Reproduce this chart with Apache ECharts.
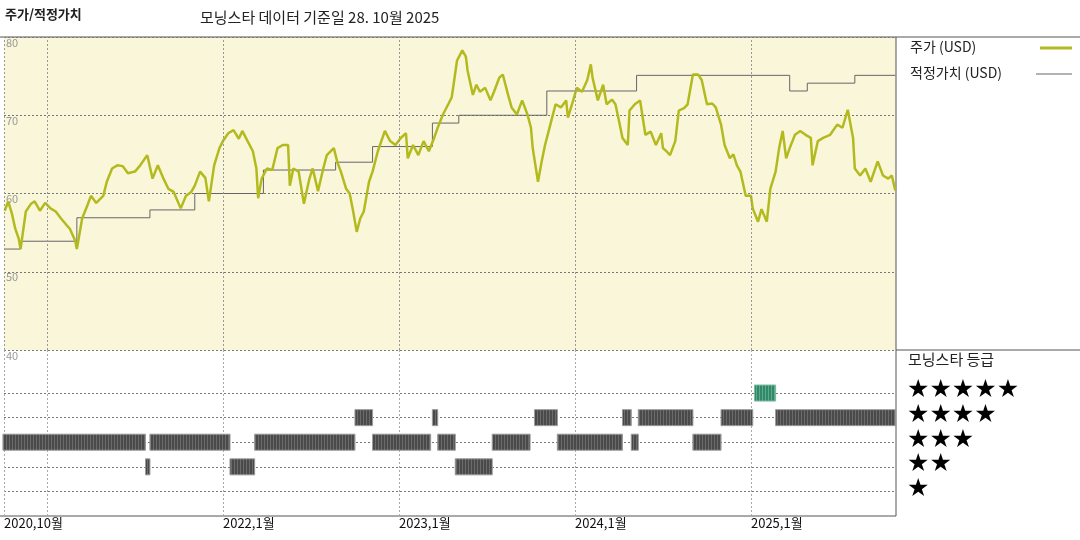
<!DOCTYPE html>
<html>
<head>
<meta charset="utf-8">
<script src="https://cdn.jsdelivr.net/npm/echarts@6/dist/echarts.min.js"></script>
<style>html,body{margin:0;padding:0;background:#fff}#c{width:1080px;height:540px}</style>
</head>
<body>
<div id="c"></div>
<script>
// 주가 (USD): [연도, 값]
var priceData = [
  [2020.76,57.8],[2020.78,59.0],[2020.80,57.5],[2020.82,55.5],[2020.84,54.2],[2020.85,52.9],[2020.88,57.7],[2020.91,58.7],
  [2020.93,59.0],[2020.96,57.8],[2020.99,58.8],[2021.02,58.1],[2021.05,57.7],[2021.08,56.8],[2021.11,56.0],[2021.13,55.5],
  [2021.16,54.0],[2021.17,52.9],[2021.20,56.8],[2021.23,58.5],[2021.25,59.7],[2021.28,58.8],[2021.32,59.7],[2021.34,61.5],
  [2021.37,63.2],[2021.40,63.6],[2021.43,63.5],[2021.46,62.6],[2021.50,62.8],[2021.53,63.6],[2021.57,64.9],[2021.60,61.9],
  [2021.63,63.6],[2021.66,62.0],[2021.69,60.6],[2021.72,60.2],[2021.76,58.1],[2021.79,59.7],[2021.82,60.2],[2021.84,61.0],
  [2021.87,62.8],[2021.90,62.0],[2021.92,59.0],[2021.95,63.6],[2021.98,65.8],[2022.00,66.7],[2022.03,67.7],[2022.06,68.1],
  [2022.09,67.0],[2022.11,68.0],[2022.14,66.7],[2022.17,65.4],[2022.19,63.2],[2022.20,59.4],[2022.22,61.9],[2022.25,63.2],
  [2022.28,63.0],[2022.31,65.8],[2022.34,66.2],[2022.37,66.2],[2022.38,61.0],[2022.40,63.2],[2022.43,62.8],[2022.46,58.7],
  [2022.49,61.8],[2022.51,63.2],[2022.54,60.3],[2022.57,63.2],[2022.59,64.9],[2022.63,65.8],[2022.65,64.0],[2022.67,62.8],
  [2022.70,60.6],[2022.72,60.0],[2022.74,57.7],[2022.76,55.1],[2022.78,56.8],[2022.80,57.7],[2022.83,61.5],[2022.85,62.8],
  [2022.88,65.4],[2022.92,68.0],[2022.95,66.7],[2022.98,66.2],[2023.01,67.1],[2023.04,67.7],[2023.05,64.5],[2023.08,66.2],
  [2023.11,64.9],[2023.14,66.7],[2023.17,65.4],[2023.20,67.1],[2023.22,68.4],[2023.25,70.1],[2023.28,71.4],[2023.30,72.3],
  [2023.33,77.0],[2023.36,78.3],[2023.38,77.5],[2023.39,75.7],[2023.42,72.6],[2023.44,73.9],[2023.46,73.0],[2023.49,73.5],
  [2023.52,71.9],[2023.54,73.0],[2023.57,74.8],[2023.59,75.2],[2023.62,72.6],[2023.64,71.0],[2023.67,70.1],[2023.70,71.9],
  [2023.73,70.1],[2023.75,68.4],[2023.76,65.8],[2023.79,61.5],[2023.81,64.0],[2023.83,66.2],[2023.86,68.8],[2023.89,71.4],
  [2023.92,71.0],[2023.95,71.9],[2023.96,69.7],[2023.99,71.9],[2024.01,73.5],[2024.04,73.0],[2024.07,74.5],[2024.09,76.5],
  [2024.10,74.8],[2024.13,71.9],[2024.16,73.9],[2024.18,71.4],[2024.21,72.0],[2024.23,71.4],[2024.25,69.3],[2024.27,67.1],
  [2024.30,66.2],[2024.31,70.6],[2024.34,71.4],[2024.37,71.9],[2024.40,67.5],[2024.43,67.9],[2024.46,66.2],[2024.49,67.7],
  [2024.50,65.8],[2024.52,65.4],[2024.54,64.9],[2024.57,66.7],[2024.59,70.6],[2024.62,70.9],[2024.64,71.4],[2024.67,75.2],
  [2024.70,75.2],[2024.72,74.5],[2024.75,71.4],[2024.78,71.5],[2024.80,71.0],[2024.83,68.8],[2024.85,66.2],[2024.88,64.5],
  [2024.90,65.0],[2024.92,63.6],[2024.94,62.8],[2024.97,59.7],[2025.00,59.7],[2025.01,58.1],[2025.04,56.4],[2025.06,58.0],
  [2025.09,56.4],[2025.11,60.6],[2025.14,62.8],[2025.16,65.8],[2025.18,68.0],[2025.20,64.5],[2025.22,65.8],[2025.25,67.5],
  [2025.28,68.0],[2025.31,67.5],[2025.34,67.1],[2025.35,63.6],[2025.38,66.7],[2025.41,67.1],[2025.45,67.5],[2025.49,68.8],
  [2025.52,68.4],[2025.55,70.7],[2025.58,67.1],[2025.59,63.2],[2025.62,62.3],[2025.65,63.2],[2025.68,61.5],[2025.72,64.1],
  [2025.75,62.3],[2025.78,61.9],[2025.80,62.3],[2025.82,60.4]
];
// 적정가치 (USD): 변경 시점과 값
var fairValueData = [
  [2020.756,52.9],[2020.85,53.9],[2021.17,56.9],[2021.585,57.9],[2021.84,60.0],[2022.23,63.0],[2022.64,64.0],
  [2022.85,66.0],[2023.19,69.0],[2023.34,70.0],[2023.84,73.1],[2024.35,75.1],[2025.22,73.1],[2025.32,74.1],
  [2025.59,75.1],[2025.82,75.1]
];
// 모닝스타 등급 구간: [시작, 끝, 별 개수]
var ratingData = [
  [2020.75,2021.56,3],[2021.56,2021.585,2],[2021.585,2022.04,3],[2022.04,2022.18,2],[2022.18,2022.75,3],
  [2022.75,2022.85,4],[2022.85,2023.18,3],[2023.19,2023.22,4],[2023.22,2023.32,3],[2023.32,2023.53,2],
  [2023.53,2023.745,3],[2023.77,2023.90,4],[2023.90,2024.27,3],[2024.27,2024.32,4],[2024.32,2024.36,3],
  [2024.36,2024.67,4],[2024.67,2024.83,3],[2024.83,2025.01,4],[2025.02,2025.14,5],[2025.14,2025.82,4]
];
var tickValues = [2020.756, 2021, 2022, 2023, 2024, 2025];
var tickLabels = ['2020,10월', '2021,1월', '2022,1월', '2023,1월', '2024,1월', '2025,1월'];
var ratingRows = [1, 2, 3, 4, 5];
var starLabels = ['★★★★★', '★★★★', '★★★', '★★', '★'];

var FONT = '"Noto Sans CJK KR", "DejaVu Sans", sans-serif';
var X0 = 2020.756, X1 = 2025.824;
var chart = echarts.init(document.getElementById('c'));

var dotted = {color: '#777', type: [2, 2], width: 1};
var vLines = tickValues.slice(1).map(function (v) { return {xAxis: v}; });

var graphics = [
  {type: 'text', left: 5, top: 8, style: {text: '주가/적정가치', font: 'bold 13px ' + FONT, fill: '#222'}},
  {type: 'text', left: 200, top: 10, style: {text: '모닝스타 데이터 기준일 28. 10월 2025', font: '15px ' + FONT, fill: '#222'}},
  {type: 'line', shape: {x1: 0, y1: 37, x2: 1080, y2: 37}, style: {stroke: '#555', lineWidth: 1}},
  {type: 'line', shape: {x1: 896, y1: 37, x2: 896, y2: 516}, style: {stroke: '#555', lineWidth: 1}},
  {type: 'line', shape: {x1: 896, y1: 350, x2: 1080, y2: 350}, style: {stroke: '#555', lineWidth: 1}},
  {type: 'line', shape: {x1: 0, y1: 516, x2: 896, y2: 516}, style: {stroke: '#555', lineWidth: 1}},
  {type: 'text', left: 910, top: 40, style: {text: '주가 (USD)', font: '14px ' + FONT, fill: '#222'}},
  {type: 'line', shape: {x1: 1040, y1: 48, x2: 1072, y2: 48}, style: {stroke: '#b3ba1e', lineWidth: 3}},
  {type: 'text', left: 910, top: 66, style: {text: '적정가치 (USD)', font: '14px ' + FONT, fill: '#222'}},
  {type: 'line', shape: {x1: 1036, y1: 74, x2: 1072, y2: 74}, style: {stroke: '#666', lineWidth: 1}},
  {type: 'text', left: 908, top: 352, style: {text: '모닝스타 등급', font: '15px ' + FONT, fill: '#222'}}
];
starLabels.forEach(function (s, i) {
  graphics.push({type: 'text', left: 907, top: 378 + i * 24.8, style: {text: s, font: '25px "DejaVu Sans", sans-serif', fill: '#000'}});
});

chart.setOption({
  animation: false,
  graphic: graphics,
  grid: [
    {left: 4, right: 184, top: 37, height: 313, show: true, backgroundColor: '#faf6da', borderWidth: 0},
    {left: 4, right: 184, top: 350, height: 166, show: false}
  ],
  xAxis: [
    {gridIndex: 0, type: 'value', min: X0, max: X1, axisLine: {show: false}, axisTick: {show: false},
      axisLabel: {show: false}, splitLine: {show: false}},
    {gridIndex: 1, type: 'value', min: X0, max: X1, axisLine: {show: false}, axisTick: {show: false},
      splitLine: {show: false},
      axisLabel: {customValues: tickValues, showMinLabel: true, align: 'left', margin: 1, color: '#111', fontSize: 13, fontFamily: FONT,
        formatter: function (v) { var i = tickValues.indexOf(v); return i < 0 ? '' : tickLabels[i]; }}}
  ],
  yAxis: [
    {gridIndex: 0, type: 'value', min: 40, max: 80, interval: 10, axisLine: {show: false}, axisTick: {show: false},
      axisLabel: {inside: true, verticalAlign: 'top', margin: 2, color: '#999', fontSize: 11, fontFamily: FONT,
        showMaxLabel: true, showMinLabel: true},
      splitLine: {show: true, lineStyle: dotted}},
    {gridIndex: 1, type: 'value', min: 0, max: 6.75, axisLine: {show: false}, axisTick: {show: false},
      axisLabel: {show: false}, splitLine: {show: false}}
  ],
  series: [
    {type: 'line', xAxisIndex: 0, yAxisIndex: 0, data: fairValueData, step: 'end', symbol: 'none',
      lineStyle: {color: '#666', width: 1}, z: 2,
      markLine: {silent: true, symbol: 'none', label: {show: false}, lineStyle: {color: '#999', type: [2, 2], width: 1},
        data: vLines.concat([{xAxis: X0}])}},
    {type: 'line', xAxisIndex: 0, yAxisIndex: 0, data: priceData, symbol: 'none',
      lineStyle: {color: '#b3ba1e', width: 2.5}, z: 3},
    {type: 'custom', xAxisIndex: 1, yAxisIndex: 1, data: ratingData, z: 3,
      renderItem: function (params, api) {
        var p0 = api.coord([api.value(0), api.value(2)]);
        var p1 = api.coord([api.value(1), api.value(2)]);
        var five = api.value(2) === 5;
        return {type: 'rect', shape: {x: p0[0], y: p0[1] - 8, width: Math.max(p1[0] - p0[0], 2), height: 16},
          style: {fill: five ? '#2f8a68' : '#4a4a4a', stroke: five ? '#7fb89f' : '#999', lineWidth: 0.6,
            decal: {symbol: 'rect', dashArrayX: [[1, 2]], dashArrayY: [1, 0], rotation: 0, color: five ? 'rgba(255,255,255,0.25)' : 'rgba(255,255,255,0.18)'}}};
      },
      markLine: {silent: true, symbol: 'none', label: {show: false}, z: 1,
        data: ratingRows.map(function (r) { return {yAxis: r, lineStyle: {color: '#777', type: [2, 2], width: 1}}; })
          .concat(vLines.concat([{xAxis: X0}]).map(function (d) { return {xAxis: d.xAxis, lineStyle: {color: '#aaa', type: [2, 2], width: 1}}; }))}}
  ]
});
</script>
</body>
</html>
